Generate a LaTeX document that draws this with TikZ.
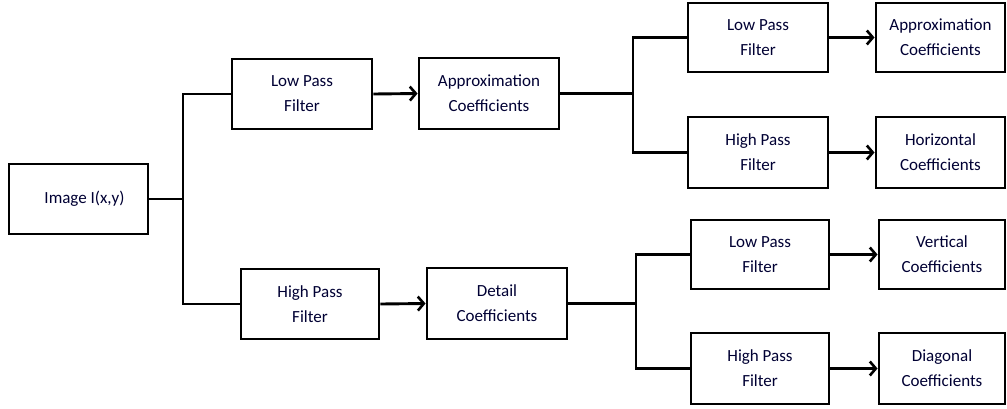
\documentclass[tikz,border=0pt]{standalone}
\usepackage{fontspec}
\setmainfont{Carlito}
\usetikzlibrary{arrows.meta}
\begin{document}
\begin{tikzpicture}[x=1pt,y=-1pt,
  box/.style={draw,line width=2.9pt,rectangle,align=center,inner sep=0pt,
    font=\fontsize{17}{25}\selectfont,text=black!80!blue},
  link/.style={line width=2.9pt},
  arr/.style={line width=2.9pt,-{Straight Barb[length=6pt,width=14pt,line width=2.6pt]}}]
\useasboundingbox (0,0) rectangle (1007,408);
% boxes: center and size from pixel corners
\node[box,minimum width=139pt,minimum height=70pt] (img) at (78.5,199) {\hspace*{12pt}Image I(x,y)};
\node[box,minimum width=140pt,minimum height=70pt] (lpf1) at (302,94) {Low Pass\\Filter};
\node[box,minimum width=138pt,minimum height=70pt] (hpf1) at (310,304) {High Pass\\Filter};
\node[box,minimum width=140pt,minimum height=71pt] (app1) at (489,93.5) {Approximation\\Coefficients};
\node[box,minimum width=140pt,minimum height=71pt] (det1) at (497,303.5) {Detail\\Coefficients};
\node[box,minimum width=140pt,minimum height=69pt] (lpf2) at (758,37.5) {Low Pass\\Filter};
\node[box,minimum width=140pt,minimum height=71pt] (hpf2) at (758,152.5) {High Pass\\Filter};
\node[box,minimum width=129pt,minimum height=69pt] (app2) at (940.5,37.5) {Approximation\\Coefficients};
\node[box,minimum width=129pt,minimum height=71pt] (hor) at (940.5,152.5) {Horizontal\\Coefficients};
\node[box,minimum width=138pt,minimum height=69pt] (lpf3) at (760,254.5) {Low Pass\\Filter};
\node[box,minimum width=138pt,minimum height=71pt] (hpf3) at (760,368.5) {High Pass\\Filter};
\node[box,minimum width=126pt,minimum height=69pt] (ver) at (942,254.5) {Vertical\\Coefficients};
\node[box,minimum width=126pt,minimum height=71pt] (dia) at (942,368.5) {Diagonal\\Coefficients};
% split points
\coordinate (s1) at (183,0);
\coordinate (s2) at (633,0);
\coordinate (s3) at (636,0);
% first stage
\draw[link] (img.east) -- (img.east -| s1);
\draw[link] (lpf1.west) -| (s1 |- hpf1.west) -- (hpf1.west);
\draw[arr] (lpf1.east) -- (app1.west);
\draw[arr] (hpf1.east) -- (det1.west);
% second stage, approximation branch
\draw[link] (app1.east) -- (app1.east -| s2);
\draw[link] (lpf2.west) -| (s2 |- hpf2.west) -- (hpf2.west);
\draw[arr] (lpf2.east) -- (app2.west);
\draw[arr] (hpf2.east) -- (hor.west);
% second stage, detail branch
\draw[link] (det1.east) -- (det1.east -| s3);
\draw[link] (lpf3.west) -| (s3 |- hpf3.west) -- (hpf3.west);
\draw[arr] (lpf3.east) -- (ver.west);
\draw[arr] (hpf3.east) -- (dia.west);
\end{tikzpicture}
\end{document}
